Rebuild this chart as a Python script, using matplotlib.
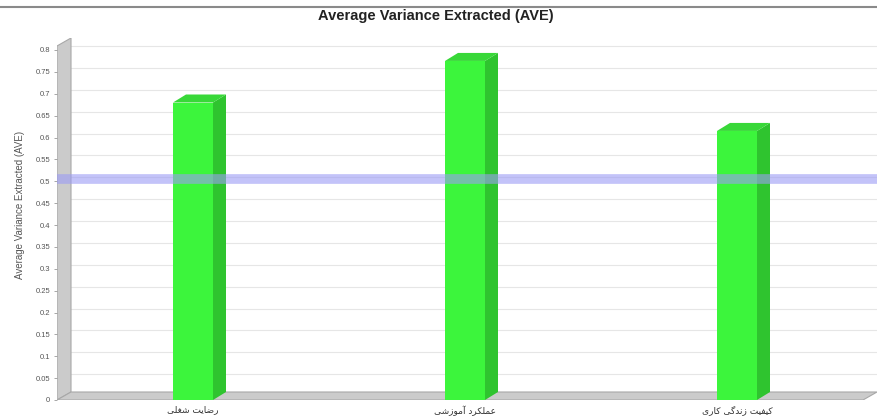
import matplotlib
matplotlib.use("Agg")
import matplotlib.pyplot as plt
from matplotlib.patches import Polygon, Rectangle

# data
categories = ["رضایت شغلی", "عملکرد آموزشی", "کیفیت زندگی کاری"]
ave_values = [0.68, 0.775, 0.615]
threshold = 0.5
y_ticks = [0, 0.05, 0.1, 0.15, 0.2, 0.25, 0.3, 0.35, 0.4, 0.45, 0.5,
           0.55, 0.6, 0.65, 0.7, 0.75, 0.8]
y_tick_labels = ["0", "0.05", "0.1", "0.15", "0.2", "0.25", "0.3", "0.35", "0.4",
                 "0.45", "0.5", "0.55", "0.6", "0.65", "0.7", "0.75", "0.8"]

# minimal Persian shaping (matplotlib has no bidi / joining support)
FORMS = {
    "ا": ("\uFE8D", "\uFE8E", None, None),
    "آ": ("\uFE81", "\uFE82", None, None),
    "د": ("\uFEA9", "\uFEAA", None, None),
    "ر": ("\uFEAD", "\uFEAE", None, None),
    "ز": ("\uFEAF", "\uFEB0", None, None),
    "و": ("\uFEED", "\uFEEE", None, None),
    "ت": ("\uFE95", "\uFE96", "\uFE97", "\uFE98"),
    "ش": ("\uFEB5", "\uFEB6", "\uFEB7", "\uFEB8"),
    "ض": ("\uFEBD", "\uFEBE", "\uFEBF", "\uFEC0"),
    "ع": ("\uFEC9", "\uFECA", "\uFECB", "\uFECC"),
    "غ": ("\uFECD", "\uFECE", "\uFECF", "\uFED0"),
    "ف": ("\uFED1", "\uFED2", "\uFED3", "\uFED4"),
    "ل": ("\uFEDD", "\uFEDE", "\uFEDF", "\uFEE0"),
    "م": ("\uFEE1", "\uFEE2", "\uFEE3", "\uFEE4"),
    "ن": ("\uFEE5", "\uFEE6", "\uFEE7", "\uFEE8"),
    "ی": ("\uFBFC", "\uFBFD", "\uFBFE", "\uFBFF"),
    "ک": ("\uFB8E", "\uFB8F", "\uFB90", "\uFB91"),
    "گ": ("\uFB92", "\uFB93", "\uFB94", "\uFB95"),
}


def shape_fa(text):
    out = []
    for i, ch in enumerate(text):
        if ch not in FORMS:
            out.append(ch)
            continue
        prev = text[i - 1] if i > 0 else None
        nxt = text[i + 1] if i + 1 < len(text) else None
        join_prev = prev in FORMS and FORMS[prev][2] is not None
        join_next = FORMS[ch][2] is not None and nxt in FORMS
        iso, fin, ini, med = FORMS[ch]
        if join_prev and join_next:
            out.append(med)
        elif join_prev:
            out.append(fin)
        elif join_next:
            out.append(ini)
        else:
            out.append(iso)
    return "".join(reversed(out))


plt.rcParams['font.family'] = ['Liberation Sans', 'DejaVu Sans']

fig = plt.figure(figsize=(8.77, 4.16), dpi=100)
# axes: left 57px, right 877px, top 38px, bottom 400px
ax = fig.add_axes([57 / 877, 16 / 416, 820 / 877, 362 / 416])

x = list(range(len(categories)))
px_per_x = 272.0
px_per_y = 437.5
ax.set_xlim(-136 / px_per_x, 2 + 140 / px_per_x)
ax.set_ylim(0, 362 / px_per_y)

# 3D depth in data units
ddx = 13 / px_per_x
ddy = 8 / px_per_y
bw = 40 / px_per_x

# walls (axes fraction)
fx = 14 / 820
fy = 8 / 362
wall = Polygon([(0, 0), (fx, fy), (fx, 1), (0, 1 - fy)], closed=True,
               facecolor='#cbcbcb', edgecolor='#a8a8a8', lw=0.8,
               transform=ax.transAxes, zorder=1)
floor = Polygon([(0, 0), (1 - fx, 0), (1, fy), (fx, fy)], closed=True,
                facecolor='#cbcbcb', edgecolor='#a8a8a8', lw=0.8,
                transform=ax.transAxes, zorder=1)
ax.add_patch(wall)
ax.add_patch(floor)

x0 = ax.get_xlim()[0] + 14 / px_per_x
for t in y_ticks[1:]:
    ax.plot([x0, ax.get_xlim()[1]], [t + ddy * 0.5, t + ddy * 0.5],
            color='#e6e6e6', lw=0.8, zorder=0.5)

for xi, v in zip(x, ave_values):
    l, r = xi - bw / 2, xi + bw / 2
    ax.add_patch(Polygon([(r, 0), (r + ddx, ddy), (r + ddx, v + ddy), (r, v)],
                         closed=True, facecolor='#2fc42f', edgecolor='none', zorder=3))
    ax.add_patch(Polygon([(l, v), (l + ddx, v + ddy), (r + ddx, v + ddy), (r, v)],
                         closed=True, facecolor='#38d838', edgecolor='none', zorder=3))
    ax.add_patch(Rectangle((l, 0), bw, v, facecolor='#3cf53c',
                           edgecolor='none', zorder=3))

ax.axhline(threshold + ddy * 0.3, color='#9c9cf5', lw=7, alpha=0.6, zorder=4)

ax.set_xticks(x)
ax.set_xticklabels([shape_fa(c) for c in categories], fontsize=6.5,
                   family=['DejaVu Sans'], color='#333333')
ax.tick_params(axis='x', length=0, pad=4)
ax.set_yticks(y_ticks)
ax.set_yticklabels(y_tick_labels, fontsize=5.5, color='#555555')
ax.tick_params(axis='y', length=2, width=0.6, color='#999999', pad=3)
for s in ax.spines.values():
    s.set_visible(False)

fig.text(20 / 877, 1 - 205 / 416, "Average Variance Extracted (AVE)", rotation=90,
         ha='center', va='center', fontsize=7, color='#555555')
fig.text(436 / 877, 1 - 16 / 416, "Average Variance Extracted (AVE)",
         ha='center', va='center', fontsize=10.5, fontweight='bold', color='#222222')
fig.add_artist(plt.Line2D([0, 1], [1 - 7 / 416, 1 - 7 / 416], color='#8a8a8a',
                          lw=1.5, transform=fig.transFigure))

fig.savefig("out.png", dpi=100)
